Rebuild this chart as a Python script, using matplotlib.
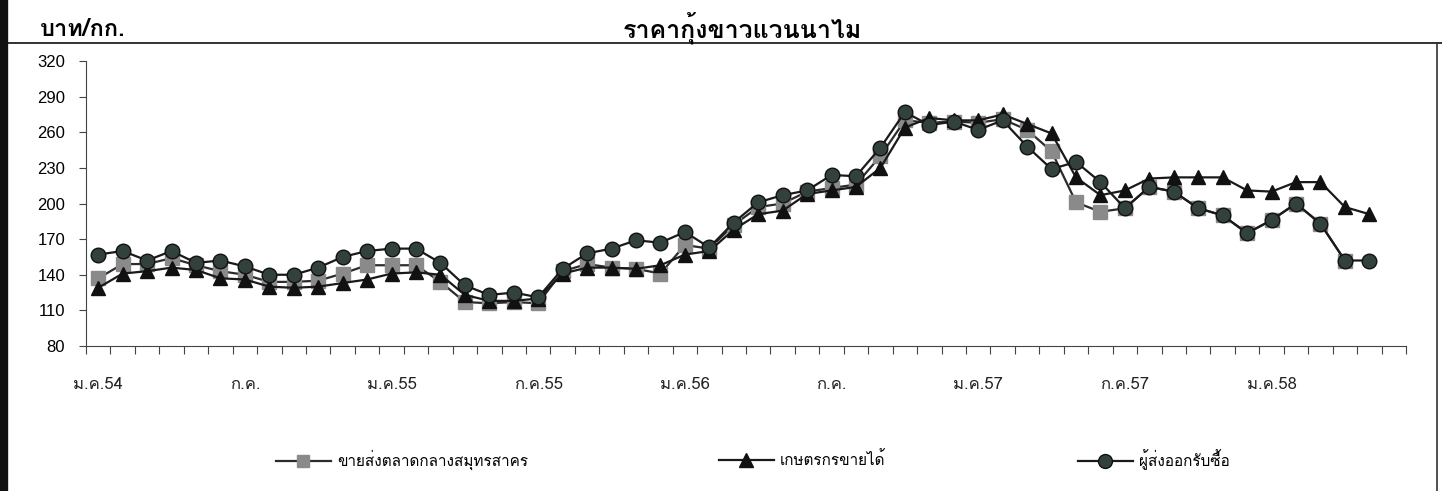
import numpy as np
import matplotlib
matplotlib.use('Agg')
import matplotlib.pyplot as plt
from matplotlib import font_manager
from matplotlib.ft2font import FT2Font
from matplotlib.lines import Line2D

# find an installed font that has Thai glyphs
thai_font = None
for f in font_manager.fontManager.ttflist:
    try:
        if 0x0E01 in FT2Font(f.fname).get_charmap():
            thai_font = f.name
            break
    except Exception:
        pass
fams = [thai_font, 'DejaVu Sans'] if thai_font else ['DejaVu Sans']
plt.rcParams['font.family'] = fams

# data: monthly, ม.ค.54 .. พ.ค.58
month_labels = ['ม.ค.54', 'ก.ค.', 'ม.ค.55', 'ก.ค.55', 'ม.ค.56', 'ก.ค.', 'ม.ค.57', 'ก.ค.57', 'ม.ค.58']
wholesale = [137, 149, 149, 154, 148, 143, 140, 134, 134, 135,
             141, 148, 148, 148, 134, 117, 116, 117, 116, 143,
             149, 146, 145, 141, 165, 162, 182, 197, 200, 210,
             213, 216, 240, 270, 268, 269, 268, 271, 262, 244,
             201, 193, 196, 214, 210, 196, 190, 175, 186, 200,
             183, 152, np.nan]
farmer = [129, 141, 143, 146, 144, 137, 136, 130, 129, 130,
          133, 136, 141, 142, 140, 123, 118, 118, 120, 141,
          146, 146, 145, 148, 157, 160, 178, 191, 194, 208,
          211, 214, 230, 264, 272, 270, 270, 275, 267, 259,
          222, 207, 211, 221, 222, 222, 222, 211, 210, 218,
          218, 197, 191]
exporter = [157, 160, 152, 160, 150, 152, 147, 140, 140, 146,
            155, 160, 162, 162, 150, 131, 123, 125, 121, 145,
            158, 162, 169, 167, 176, 163, 184, 201, 207, 211,
            224, 223, 247, 277, 266, 269, 262, 270, 248, 229,
            235, 218, 196, 214, 210, 196, 190, 175, 186, 200,
            183, 152, 152]
names = ['ขายส่งตลาดกลางสมุทรสาคร', 'เกษตรกรขายได้', 'ผู้ส่งออกรับซื้อ']

x = np.arange(len(farmer))

fig = plt.figure(figsize=(14.42, 4.91), dpi=100)
ax = fig.add_axes([86/1442, 1-346/491, (1406-86)/1442, (346-61)/491])

ax.plot(x, wholesale, color='#2b2b2b', lw=1.6, marker='s', ms=9.5,
        mfc='#8a8a8a', mec='#8a8a8a', zorder=3)
ax.plot(x, farmer, color='#1a1a1a', lw=1.6, marker='^', ms=10,
        mfc='#111111', mec='#111111', zorder=4)
ax.plot(x, exporter, color='#1a1a1a', lw=1.6, marker='o', ms=10.5,
        mfc='#33413d', mec='#111111', zorder=5)

ax.set_xlim(-0.5, 53.5)
ax.set_ylim(80, 320)
ax.set_yticks(np.arange(80, 321, 30))
ax.set_xticks(np.arange(-0.5, 54, 1))
ax.set_xticklabels([])
ax.set_xticks(np.arange(0, 49, 6), minor=True)
ax.set_xticklabels(month_labels, minor=True, fontsize=12, color='#222222')
ax.tick_params(axis='x', which='major', direction='out', length=6, color='#444444')
ax.tick_params(axis='x', which='minor', length=0, pad=22)
ax.tick_params(axis='y', direction='out', length=5, pad=10, color='#444444')
for lab in ax.get_yticklabels():
    lab.set_fontfamily(['Liberation Sans', 'DejaVu Sans'])
    lab.set_fontsize(12)
for s in ['top', 'right']:
    ax.spines[s].set_visible(False)
ax.spines['left'].set_color('#444444')
ax.spines['bottom'].set_color('#444444')

# titles
fig.text(742/1442, 1-28/491, 'ราคากุ้งขาวแวนนาไม', ha='center', va='center',
         fontsize=18, fontweight='bold')
fig.text(40/1442, 1-30/491, 'บาท/กก.', ha='left', va='center',
         fontsize=17, fontweight='bold')

# frame lines
fig.add_artist(Line2D([8/1442, 1], [1-43/491, 1-43/491], color='#222222', lw=1.3))
fig.add_artist(Line2D([4/1442, 4/1442], [0, 1], color='#111111', lw=6))
fig.add_artist(Line2D([1437/1442, 1437/1442], [0, 1-43/491], color='#333333', lw=1.2))

# legends, one per series
handles = [
    Line2D([], [], color='#2b2b2b', lw=1.6, marker='s', ms=9, mfc='#8a8a8a', mec='#8a8a8a'),
    Line2D([], [], color='#1a1a1a', lw=1.6, marker='^', ms=10, mfc='#111111', mec='#111111'),
    Line2D([], [], color='#1a1a1a', lw=1.6, marker='o', ms=10, mfc='#33413d', mec='#111111'),
]
leg_x = [262, 705, 1064]
for h, n, lx in zip(handles, names, leg_x):
    fig.legend(handles=[h], labels=[n], loc='center left',
               bbox_to_anchor=(lx/1442, 1-460/491), frameon=False,
               handlelength=3.6, handletextpad=0.4, fontsize=11)

fig.savefig('out.png', dpi=100, facecolor='white')
